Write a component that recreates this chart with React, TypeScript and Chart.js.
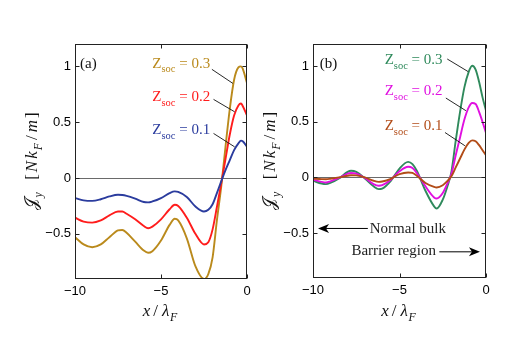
import React, { useEffect, useRef } from "react";
import { Chart, registerables } from "chart.js";
Chart.register(...registerables);

// ---------- data ----------
const xA = [-10, -9.5, -9, -8.5, -8, -7.5, -7.25, -7, -6.5, -6, -5.75, -5.5, -5, -4.5, -4.2, -4, -3.5, -3, -2.5, -2.25, -2, -1.75, -1.5, -1.25, -1, -0.75, -0.5, -0.35, -0.25, 0];
const jA01 = [-0.18, -0.2, -0.205, -0.19, -0.165, -0.15, -0.152, -0.16, -0.185, -0.215, -0.218, -0.21, -0.18, -0.135, -0.12, -0.125, -0.17, -0.255, -0.3, -0.285, -0.235, -0.135, -0.03, 0.07, 0.16, 0.25, 0.31, 0.335, 0.33, 0.28];
const jA02 = [-0.355, -0.39, -0.4, -0.38, -0.335, -0.3, -0.3, -0.32, -0.37, -0.43, -0.45, -0.435, -0.37, -0.28, -0.24, -0.25, -0.355, -0.5, -0.595, -0.575, -0.46, -0.26, -0.05, 0.17, 0.39, 0.56, 0.65, 0.667, 0.645, 0.56];
const jA03 = [-0.53, -0.595, -0.62, -0.595, -0.53, -0.47, -0.465, -0.49, -0.57, -0.65, -0.67, -0.655, -0.56, -0.42, -0.365, -0.38, -0.54, -0.79, -0.905, -0.86, -0.71, -0.38, -0.08, 0.28, 0.62, 0.88, 0.99, 1.0, 0.98, 0.85];

const xB = [-10, -9.5, -9.25, -9, -8.5, -8, -7.8, -7.5, -7, -6.5, -6.2, -6, -5.5, -5, -4.5, -4.25, -4, -3.5, -3, -2.85, -2.5, -2.25, -2, -1.75, -1.5, -1.25, -1, -0.8, -0.6, -0.4, -0.2, 0];
const jB01 = [-0.01, -0.015, -0.016, -0.012, 0.0, 0.015, 0.02, 0.018, 0.0, -0.03, -0.04, -0.037, -0.012, 0.03, 0.045, 0.04, 0.015, -0.05, -0.085, -0.09, -0.07, -0.035, 0.01, 0.09, 0.17, 0.25, 0.31, 0.333, 0.325, 0.29, 0.245, 0.2];
const jB02 = [-0.02, -0.04, -0.045, -0.035, -0.005, 0.035, 0.04, 0.035, -0.005, -0.06, -0.075, -0.07, -0.02, 0.055, 0.096, 0.085, 0.04, -0.08, -0.18, -0.19, -0.14, -0.06, 0.03, 0.2, 0.36, 0.52, 0.63, 0.67, 0.66, 0.59, 0.5, 0.4];
const jB03 = [-0.03, -0.055, -0.06, -0.05, -0.01, 0.05, 0.06, 0.05, -0.01, -0.08, -0.105, -0.1, -0.03, 0.08, 0.14, 0.12, 0.06, -0.12, -0.26, -0.28, -0.2, -0.09, 0.05, 0.33, 0.59, 0.81, 0.95, 1.005, 0.97, 0.86, 0.72, 0.6];

const xTicks = [-10, -5, 0];
const yTicks = [-0.5, 0, 0.5, 1];
const zValues = ["0.1", "0.2", "0.3"];

// ---------- styles ----------
const SERIF = '"Liberation Serif", "DejaVu Serif", serif';
const SANS = '"Liberation Sans", Arial, sans-serif';
const colorsA = ["#2B3C9E", "#FF1C1C", "#BA8A1C"];
const colorsB = ["#B24C18", "#E010E0", "#2F8A5C"];

type Seg = { t: string; i?: boolean; s?: boolean; g?: number };

function segFont(seg: Seg, size: number) {
  const sz = seg.s ? size * 0.7 : size;
  return `${seg.i ? "italic " : ""}${sz}px ${SERIF}`;
}
function mathWidth(ctx: CanvasRenderingContext2D, segs: Seg[], size: number) {
  let w = 0;
  for (const s of segs) {
    ctx.font = segFont(s, size);
    w += ctx.measureText(s.t).width + (s.g || 0);
  }
  return w;
}
function drawMath(ctx: CanvasRenderingContext2D, segs: Seg[], x: number, y: number, size: number, align: string, color: string) {
  const w = mathWidth(ctx, segs, size);
  let cx = align === "left" ? x : align === "right" ? x - w : x - w / 2;
  ctx.fillStyle = color;
  ctx.textAlign = "left";
  ctx.textBaseline = "alphabetic";
  for (const s of segs) {
    ctx.font = segFont(s, size);
    ctx.fillText(s.t, cx, y + (s.s ? size * 0.3 : 0));
    cx += ctx.measureText(s.t).width + (s.g || 0);
  }
}
function drawArrow(ctx: CanvasRenderingContext2D, x1: number, y1: number, x2: number, y2: number) {
  const dx = x2 - x1, dy = y2 - y1;
  const L = Math.hypot(dx, dy);
  const ux = dx / L, uy = dy / L;
  const hl = 11, hw = 4.5, notch = 3;
  ctx.save();
  ctx.strokeStyle = "#000";
  ctx.fillStyle = "#000";
  ctx.lineWidth = 1;
  ctx.beginPath();
  ctx.moveTo(x1, y1);
  ctx.lineTo(x2 - ux * (hl - notch), y2 - uy * (hl - notch));
  ctx.stroke();
  ctx.beginPath();
  ctx.moveTo(x2, y2);
  ctx.lineTo(x2 - ux * hl - uy * hw, y2 - uy * hl + ux * hw);
  ctx.lineTo(x2 - ux * (hl - notch), y2 - uy * (hl - notch));
  ctx.lineTo(x2 - ux * hl + uy * hw, y2 - uy * hl - ux * hw);
  ctx.closePath();
  ctx.fill();
  ctx.restore();
}

const fmt = (v: number) => (v < 0 ? "\u2212" + String(Math.abs(v)) : String(v));

const xTitle: Seg[] = [{ t: "x", i: true, g: 3 }, { t: "/", g: 4 }, { t: "\u03BB", i: true, g: 0.5 }, { t: "F", i: true, s: true }];
const yTitle: Seg[] = [
  { t: "\uD835\uDCA5", g: 0.5 }, { t: "y", i: true, s: true }, { t: "\u2002", g: 4 }, { t: "[", g: 2 }, { t: "N", i: true, g: 2 }, { t: "k", i: true, g: 1 },
  { t: "F", i: true, s: true, g: 3 }, { t: "/", g: 3 }, { t: "m", i: true, g: 2 }, { t: "]" },
];

type Annot = {
  tag: string;
  tagPos: [number, number];
  labelX: number;
  labelY: number[];
  leaders: number[][];
  colors: string[];
  arrows?: { from: [number, number]; to: [number, number]; text: string; textPos: [number, number] }[];
};

function decorPlugin(id: string, an: Annot) {
  return {
    id,
    beforeDatasetsDraw(chart: any) {
      const { ctx, chartArea: ca, scales } = chart;
      const y0 = Math.round(scales.y.getPixelForValue(0)) + 0.5;
      ctx.save();
      ctx.strokeStyle = "#6a6a6a";
      ctx.lineWidth = 1;
      ctx.beginPath();
      ctx.moveTo(ca.left, y0);
      ctx.lineTo(ca.right, y0);
      ctx.stroke();
      ctx.restore();
    },
    afterDraw(chart: any) {
      const { ctx, chartArea: ca, scales } = chart;
      const sx = scales.x, sy = scales.y;
      const L = Math.round(ca.left) + 0.5, R = Math.round(ca.right) - 0.5;
      const T = Math.round(ca.top) + 0.5, B = Math.round(ca.bottom) - 0.5;
      ctx.save();
      ctx.strokeStyle = "#222";
      ctx.lineWidth = 1;
      ctx.strokeRect(L, T, R - L, B - T);
      const tl = 4;
      ctx.beginPath();
      for (const v of xTicks) {
        const px = Math.round(sx.getPixelForValue(v)) + 0.5;
        ctx.moveTo(px, B); ctx.lineTo(px, B - tl);
        ctx.moveTo(px, T); ctx.lineTo(px, T + tl);
      }
      for (const v of yTicks) {
        const py = Math.round(sy.getPixelForValue(v)) + 0.5;
        ctx.moveTo(L, py); ctx.lineTo(L + tl, py);
        ctx.moveTo(R, py); ctx.lineTo(R - tl, py);
      }
      ctx.stroke();

      // axis titles
      drawMath(ctx, xTitle, (ca.left + ca.right) / 2 - 1, 316, 17, "center", "#111");
      ctx.save();
      ctx.translate(ca.left - 38, (ca.top + ca.bottom) / 2);
      ctx.rotate(-Math.PI / 2);
      drawMath(ctx, yTitle, 0, 0, 17, "center", "#111");
      ctx.restore();

      // panel tag
      ctx.font = `15px ${SERIF}`;
      ctx.fillStyle = "#111";
      ctx.textAlign = "left";
      ctx.textBaseline = "alphabetic";
      ctx.fillText(an.tag, sx.getPixelForValue(an.tagPos[0]), sy.getPixelForValue(an.tagPos[1]));

      // Z_soc labels with leader lines
      for (let k = 0; k < 3; k++) {
        const segs: Seg[] = [{ t: "Z" }, { t: "soc", s: true }, { t: " = " + zValues[k] }];
        drawMath(ctx, segs, sx.getPixelForValue(an.labelX), sy.getPixelForValue(an.labelY[k]), 15, "right", an.colors[k]);
        const ld = an.leaders[k];
        ctx.strokeStyle = "#111";
        ctx.lineWidth = 0.9;
        ctx.beginPath();
        ctx.moveTo(sx.getPixelForValue(ld[0]), sy.getPixelForValue(ld[1]));
        ctx.lineTo(sx.getPixelForValue(ld[2]), sy.getPixelForValue(ld[3]));
        ctx.stroke();
      }

      // arrows
      if (an.arrows) {
        for (const a of an.arrows) {
          drawArrow(ctx, sx.getPixelForValue(a.from[0]), sy.getPixelForValue(a.from[1]), sx.getPixelForValue(a.to[0]), sy.getPixelForValue(a.to[1]));
          ctx.font = `15px ${SERIF}`;
          ctx.fillStyle = "#222";
          ctx.textAlign = "left";
          ctx.textBaseline = "alphabetic";
          ctx.fillText(a.text, sx.getPixelForValue(a.textPos[0]), sy.getPixelForValue(a.textPos[1]));
        }
      }
      ctx.restore();
    },
  };
}

function buildConfig(xs: number[], series: number[][], colors: string[], padRight: number, yWidth: number, xHeight: number, plugin: any) {
  return {
    type: "line" as const,
    data: {
      datasets: series.map((vals, k) => ({
        data: xs.map((x, i) => ({ x, y: vals[i] })),
        borderColor: colors[k],
        borderWidth: 1.9,
        pointRadius: 0,
        fill: false,
        cubicInterpolationMode: "monotone" as const,
      })),
    },
    options: {
      responsive: false,
      animation: false as const,
      devicePixelRatio: 1,
      events: [],
      layout: { padding: { left: 0, top: 44, right: padRight, bottom: 0 } },
      plugins: { legend: { display: false }, tooltip: { enabled: false }, title: { display: false } },
      scales: {
        x: {
          type: "linear" as const,
          min: -10,
          max: 0,
          afterBuildTicks: (s: any) => { s.ticks = xTicks.map((v) => ({ value: v })); },
          afterFit: (s: any) => { s.height = xHeight; },
          ticks: { font: { family: SANS, size: 13 }, color: "#000", padding: 5, maxRotation: 0, autoSkip: false, callback: (v: any) => fmt(Number(v)) },
          grid: { display: false, drawTicks: false },
          border: { display: false },
        },
        y: {
          type: "linear" as const,
          min: -0.9,
          max: 1.2,
          afterBuildTicks: (s: any) => { s.ticks = yTicks.map((v) => ({ value: v })); },
          afterFit: (s: any) => { s.width = yWidth; },
          ticks: { font: { family: SANS, size: 13 }, color: "#000", padding: 4, autoSkip: false, callback: (v: any) => fmt(Number(v)) },
          grid: { display: false, drawTicks: false },
          border: { display: false },
        },
      },
    },
    plugins: [plugin],
  };
}

const annotA: Annot = {
  tag: "(a)",
  tagPos: [-9.71, 0.985],
  labelX: -2.14,
  labelY: [0.391, 0.689, 0.988],
  leaders: [
    [-1.945, 0.399, -0.72, 0.279],
    [-1.945, 0.704, -0.72, 0.593],
    [-2.04, 0.973, -0.82, 0.847],
  ],
  colors: colorsA,
};
const annotB: Annot = {
  tag: "(b)",
  tagPos: [-9.61, 0.984],
  labelX: -2.51,
  labelY: [0.426, 0.741, 1.02],
  leaders: [
    [-2.37, 0.404, -1.22, 0.285],
    [-2.32, 0.714, -1.16, 0.6],
    [-2.24, 1.065, -1.025, 0.951],
  ],
  colors: colorsB,
  arrows: [
    { from: [-6.83, -0.459], to: [-9.71, -0.459], text: "Normal bulk", textPos: [-6.72, -0.504] },
    { from: [-2.7, -0.669], to: [-0.35, -0.669], text: "Barrier region", textPos: [-7.78, -0.699] },
  ],
};

export default function App() {
  const refA = useRef<HTMLCanvasElement>(null);
  const refB = useRef<HTMLCanvasElement>(null);
  useEffect(() => {
    const a = new Chart(refA.current as HTMLCanvasElement, buildConfig(xA, [jA01, jA02, jA03], colorsA, 284, 75, 63.5, decorPlugin("decorA", annotA)) as any);
    const b = new Chart(refB.current as HTMLCanvasElement, buildConfig(xB, [jB01, jB02, jB03], colorsB, 45, 313, 64.5, decorPlugin("decorB", annotB)) as any);
    return () => {
      a.destroy();
      b.destroy();
    };
  }, []);
  return (
    <div style={{ position: "absolute", left: 0, top: 0, width: 531, height: 342, background: "#fff" }}>
      <canvas ref={refA} width={531} height={342} style={{ position: "absolute", left: 0, top: 0 }} />
      <canvas ref={refB} width={531} height={342} style={{ position: "absolute", left: 0, top: 0 }} />
    </div>
  );
}
